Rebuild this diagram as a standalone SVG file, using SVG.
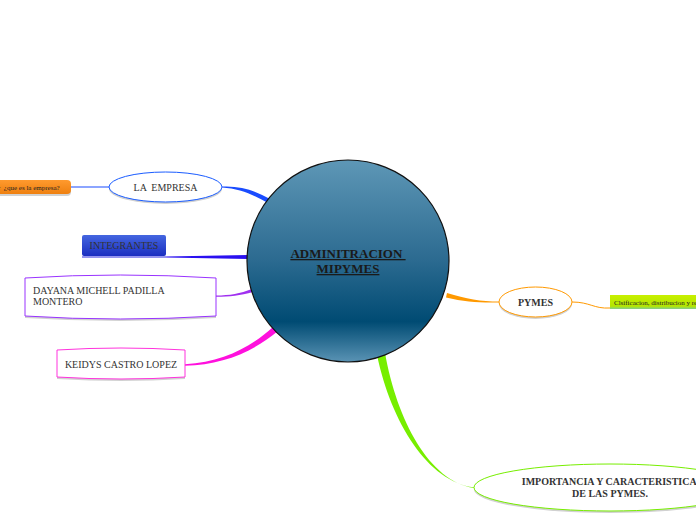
<svg xmlns="http://www.w3.org/2000/svg" width="696" height="520" viewBox="0 0 696 520">
<defs>
<linearGradient id="gCenter" x1="0" y1="0" x2="0" y2="1">
<stop offset="0" stop-color="#5e97b6"/>
<stop offset="0.5" stop-color="#2b6a90"/>
<stop offset="0.8" stop-color="#004b73"/>
<stop offset="1" stop-color="#5a93b4"/>
</linearGradient>
<linearGradient id="gInt" x1="0" y1="0" x2="0" y2="1">
<stop offset="0" stop-color="#4466e0"/>
<stop offset="1" stop-color="#1a2ec0"/>
</linearGradient>
<linearGradient id="gOr" x1="0" y1="0" x2="0" y2="1">
<stop offset="0" stop-color="#ff9a2e"/>
<stop offset="1" stop-color="#ee8010"/>
</linearGradient>
<linearGradient id="gGr" x1="0" y1="0" x2="0" y2="1">
<stop offset="0" stop-color="#c8f000"/>
<stop offset="0.8" stop-color="#b4e600"/>
<stop offset="1" stop-color="#80cc90"/>
</linearGradient>
</defs>
<style>
text{font-family:"Liberation Serif","Times New Roman",serif;}
.t{font-size:10px;fill:#333;}
.b{font-size:10px;font-weight:bold;fill:#333;}
.sh{fill:#000;opacity:0.18;}
</style>
<g id="connectors">
<line x1="71" y1="187" x2="109" y2="187" stroke="#1a4cff" stroke-width="1.2"/>
<path d="M222 186.5 C241 185.5 256 191 270 199 L268 203 C254 195 240 188.5 222 187.5 Z" fill="#1a4cff"/>
<line x1="82" y1="257" x2="166" y2="257" stroke="#2a2ae0" stroke-width="1.2"/>
<path d="M166 256.5 L248 255 L248 259 L166 257.5 Z" fill="#2a10f0"/>
<path d="M216 295.5 C230 295.5 240 293.5 252 289 L253 292 C240 295.5 230 296.8 216 296.8 Z" fill="#a030f0"/>
<path d="M185 364.3 C222 362 250 348 273 327 L278 331 C253 352 222 365 185 365.7 Z" fill="#ff10dd"/>
<path d="M447 293 C466 299 481 301.5 499 301.5 L499 302.5 C481 303 465 302 446 297.5 Z" fill="#ff9900"/>
<path d="M572 302 C590 302 594 309 610 308" fill="none" stroke="#ff9900" stroke-width="1"/>
<path d="M377 355 C391 422 428 482 474 487.3 L474 488 C429 481 397 420 385 353 Z" fill="#77ee00"/>
</g>
<g id="center">
<circle cx="348" cy="261" r="101" fill="url(#gCenter)" stroke="#111" stroke-width="1.2"/>
<text x="348" y="258" text-anchor="middle" font-size="13" font-weight="bold" fill="#1a1a1a" text-decoration="underline" xml:space="preserve">ADMINITRACION </text>
<text x="348" y="273" text-anchor="middle" font-size="13" font-weight="bold" fill="#1a1a1a" text-decoration="underline">MIPYMES</text>
</g>
<g id="que-es">
<rect x="-20" y="182" width="91" height="14" rx="4" class="sh"/>
<rect x="-20" y="180" width="91" height="14" rx="4" fill="url(#gOr)"/>
<text x="-2" y="189.5" font-size="7" fill="#222" xml:space="preserve">r  ¿que es la empresa?</text>
</g>
<g id="la-empresa">
<ellipse cx="165.5" cy="189" rx="56.5" ry="15" class="sh"/>
<ellipse cx="165.5" cy="187" rx="56.5" ry="15" fill="#fff" stroke="#1a5cff" stroke-width="1"/>
<text x="165.5" y="190.5" text-anchor="middle" class="t" fill="#222" xml:space="preserve">LA  EMPRESA</text>
</g>
<g id="integrantes">
<rect x="82" y="235" width="84" height="21" rx="2" fill="url(#gInt)"/>
<text x="124" y="249" text-anchor="middle" font-size="10" fill="#333">INTEGRANTES</text>
</g>
<g id="dayana">
<path d="M25 278 Q120 272 216 278 L216 316 Q120 322 25 316 Z" class="sh" transform="translate(0,2)"/>
<path d="M25 278 Q120 272 216 278 L216 316 Q120 322 25 316 Z" fill="#fff" stroke="#9933ff" stroke-width="1"/>
<text x="33" y="294" class="t">DAYANA MICHELL PADILLA</text>
<text x="33" y="305" class="t">MONTERO</text>
</g>
<g id="keidys">
<path d="M57 350 Q121 346 185 350 L185 377 Q121 381 57 377 Z" class="sh" transform="translate(0,2)"/>
<path d="M57 350 Q121 346 185 350 L185 377 Q121 381 57 377 Z" fill="#fff" stroke="#ff33dd" stroke-width="1"/>
<text x="121" y="368" text-anchor="middle" class="t">KEIDYS CASTRO LOPEZ</text>
</g>
<g id="pymes">
<ellipse cx="535.5" cy="304" rx="36.5" ry="15" class="sh"/>
<ellipse cx="535.5" cy="302" rx="36.5" ry="15" fill="#fff" stroke="#ff9900" stroke-width="1"/>
<text x="535.5" y="305.5" text-anchor="middle" class="b">PYMES</text>
</g>
<g id="clasificacion">
<rect x="610" y="295" width="100" height="14" fill="url(#gGr)"/>
<text x="614" y="304.5" font-size="7" fill="#222">Clsificacion, distribucion y re</text>
</g>
<g id="importancia">
<ellipse cx="610" cy="489.5" rx="136" ry="23.5" class="sh"/>
<ellipse cx="610" cy="487.5" rx="136" ry="23.5" fill="#fff" stroke="#77ee00" stroke-width="1"/>
<text x="612" y="485" text-anchor="middle" class="b">IMPORTANCIA Y CARACTERISTICAS</text>
<text x="610" y="497" text-anchor="middle" class="b">DE LAS PYMES.</text>
</g>
</svg>
